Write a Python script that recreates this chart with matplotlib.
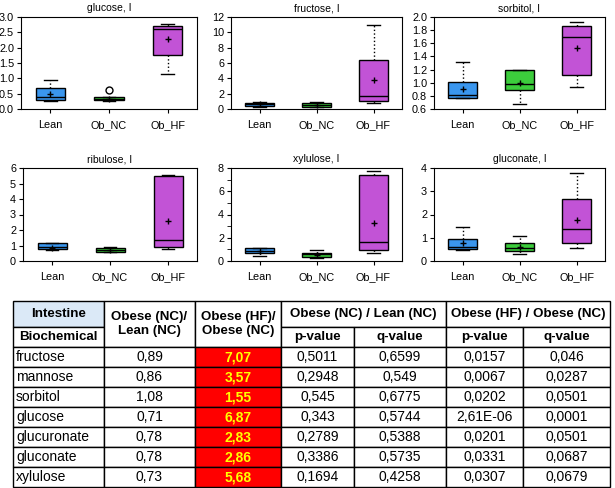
import matplotlib
matplotlib.use("Agg")
import matplotlib.pyplot as plt
from matplotlib.patches import Rectangle
from matplotlib.ticker import MultipleLocator, FormatStrFormatter

plt.rcParams['font.family'] = ['Liberation Sans', 'DejaVu Sans']

# ---------------- data ----------------
groups = ["Lean", "Ob_NC", "Ob_HF"]
metabolites = ["glucose", "fructose", "sorbitol", "ribulose", "xylulose", "gluconate"]
titles = ["glucose, I", "fructose, I", "sorbitol, I", "ribulose, I", "xylulose, I", "gluconate, I"]

# per metabolite: values for Lean, Ob_NC, Ob_HF
whislo = [[0.25, 0.27, 1.13], [0.30, 0.30, 0.79], [0.76, 0.67, 0.93],
          [0.68, 0.55, 0.77], [0.44, 0.29, 0.67], [0.48, 0.28, 0.56]]
q1 = [[0.28, 0.28, 1.76], [0.40, 0.30, 1.00], [0.77, 0.89, 1.12],
      [0.77, 0.56, 0.92], [0.67, 0.38, 0.91], [0.51, 0.41, 0.77]]
med = [[0.39, 0.34, 2.61], [0.60, 0.55, 1.75], [0.81, 0.986, 1.69],
       [0.92, 0.71, 1.35], [0.88, 0.56, 1.61], [0.62, 0.56, 1.38]]
q3 = [[0.68, 0.39, 2.70], [0.74, 0.80, 6.33], [1.016, 1.20, 1.86],
      [1.13, 0.86, 5.46], [1.08, 0.73, 7.42], [0.94, 0.77, 2.68]]
whishi = [[0.96, 0.39, 2.78], [0.90, 0.85, 10.9], [1.31, 1.20, 1.92],
          [1.17, 0.88, 5.52], [1.10, 0.97, 7.77], [1.47, 1.08, 3.80]]
means = [[0.49, 0.33, 2.28], [0.60, 0.55, 3.80], [0.91, 0.99, 1.53],
         [0.86, 0.70, 2.57], [0.85, 0.55, 3.28], [0.79, 0.62, 1.77]]
fliers = [[[], [0.61], []], [[], [], []], [[], [], []],
          [[], [], []], [[], [], []], [[], [], []]]

y_limits = [(0, 3.0), (0, 12), (0.6, 2.0), (0, 6), (0, 8), (0, 4)]
y_steps = [0.5, 2, 0.2, 1, 2, 1]
y_formats = ["%.1f", "%d", "%.1f", "%d", "%d", "%d"]

# table data
row_names = ["fructose", "mannose", "sorbitol", "glucose", "glucuronate", "gluconate", "xylulose"]
ratio_nc_lean = ["0,89", "0,86", "1,08", "0,71", "0,78", "0,78", "0,73"]
ratio_hf_nc = ["7,07", "3,57", "1,55", "6,87", "2,83", "2,86", "5,68"]
p_nc_lean = ["0,5011", "0,2948", "0,545", "0,343", "0,2789", "0,3386", "0,1694"]
q_nc_lean = ["0,6599", "0,549", "0,6775", "0,5744", "0,5388", "0,5735", "0,4258"]
p_hf_nc = ["0,0157", "0,0067", "0,0202", "2,61E-06", "0,0201", "0,0331", "0,0307"]
q_hf_nc = ["0,046", "0,0287", "0,0501", "0,0001", "0,0501", "0,0687", "0,0679"]

colors = ["#3a96ee", "#3ccc3c", "#c253d6"]

# ---------------- figure ----------------
W, H = 615, 488
fig = plt.figure(figsize=(W / 100, H / 100), dpi=100)

# axes pixel boxes (left, top, right, bottom)
boxes_px = [(21, 17, 197, 109), (231, 17, 402, 109), (434, 17, 605, 109),
            (23, 168, 197, 261), (231, 168, 402, 261), (434, 168, 605, 261)]

for i, name in enumerate(metabolites):
    l, t, r, b = boxes_px[i]
    ax = fig.add_axes([l / W, 1 - b / H, (r - l) / W, (b - t) / H])
    stats = []
    for g in range(3):
        stats.append(dict(whislo=whislo[i][g], q1=q1[i][g], med=med[i][g],
                          q3=q3[i][g], whishi=whishi[i][g], mean=means[i][g],
                          fliers=fliers[i][g], label=groups[g]))
    bp = ax.bxp(stats, positions=[1, 2, 3], widths=0.5, showmeans=True,
                patch_artist=True, capwidths=0.22,
                boxprops=dict(edgecolor="black", linewidth=1.0),
                medianprops=dict(color="black", linewidth=1.0),
                whiskerprops=dict(color="black", linestyle=":", linewidth=1.0),
                capprops=dict(color="black", linewidth=1.0),
                meanprops=dict(marker="+", markeredgecolor="black", markersize=5,
                               markeredgewidth=1.0),
                flierprops=dict(marker="o", markerfacecolor="white",
                                markeredgecolor="black", markersize=5))
    for patch, c in zip(bp["boxes"], colors):
        patch.set_facecolor(c)
    ax.set_xlim(0.5, 3.5)
    ax.set_ylim(*y_limits[i])
    ax.yaxis.set_major_locator(MultipleLocator(y_steps[i]))
    ax.yaxis.set_major_formatter(FormatStrFormatter(y_formats[i]))
    if name == "xylulose":
        ax.yaxis.set_minor_locator(MultipleLocator(1))
        ax.tick_params(axis="y", which="minor", length=3, direction="out")
    ax.set_xticks([1, 2, 3])
    ax.set_xticklabels(groups)
    ax.tick_params(axis="both", labelsize=7.8, length=3, direction="out",
                   top=False, right=False, pad=2)
    ax.tick_params(axis="x", pad=5)
    for s in ax.spines.values():
        s.set_linewidth(0.8)
    ax.set_title(titles[i], fontsize=7.5, pad=4)

# ---------------- table ----------------
tax = fig.add_axes([0, 0, 1, 1])
tax.set_xlim(0, W)
tax.set_ylim(H, 0)
tax.axis("off")

cx = [13, 104, 195, 281, 354, 446, 523, 610]
h0, h1, h2 = 301, 327, 347
row_h = 20.0
ry = [h2 + k * row_h for k in range(len(row_names) + 1)]

lw = 1.0
def box(x0, y0, x1, y1, fc="white"):
    tax.add_patch(Rectangle((x0, y0), x1 - x0, y1 - y0, facecolor=fc,
                            edgecolor="black", linewidth=lw))

def txt(x, y, s, ha="center", bold=False, color="black", size=10):
    tax.text(x, y, s, ha=ha, va="center", fontsize=size, color=color,
             fontweight="bold" if bold else "normal")

HS = 9.6
# header cells
box(cx[0], h0, cx[1], h1, fc="#dbe9f7")
txt((cx[0] + cx[1]) / 2, (h0 + h1) / 2, "Intestine", bold=True, size=HS)
box(cx[0], h1, cx[1], h2)
txt((cx[0] + cx[1]) / 2, (h1 + h2) / 2, "Biochemical", bold=True, size=HS)
box(cx[1], h0, cx[2], h2)
txt((cx[1] + cx[2]) / 2, (h0 + h2) / 2, "Obese (NC)/\nLean (NC)", bold=True, size=HS)
box(cx[2], h0, cx[3], h2)
txt((cx[2] + cx[3]) / 2, (h0 + h2) / 2, "Obese (HF)/\nObese (NC)", bold=True, size=HS)
box(cx[3], h0, cx[5], h1)
txt((cx[3] + cx[5]) / 2, (h0 + h1) / 2, "Obese (NC) / Lean (NC)", bold=True, size=HS)
box(cx[5], h0, cx[7], h1)
txt((cx[5] + cx[7]) / 2, (h0 + h1) / 2, "Obese (HF) / Obese (NC)", bold=True, size=HS)
for k, lab in zip(range(3, 7), ["p-value", "q-value", "p-value", "q-value"]):
    box(cx[k], h1, cx[k + 1], h2)
    txt((cx[k] + cx[k + 1]) / 2, (h1 + h2) / 2, lab, bold=True, size=HS)

# data cells
cols = [ratio_nc_lean, ratio_hf_nc, p_nc_lean, q_nc_lean, p_hf_nc, q_hf_nc]
for r, name in enumerate(row_names):
    y0, y1 = ry[r], ry[r + 1]
    ym = (y0 + y1) / 2
    box(cx[0], y0, cx[1], y1)
    txt(cx[0] + 3, ym, name, ha="left")
    for c, col in enumerate(cols):
        k = c + 1
        if c == 1:
            box(cx[k], y0, cx[k + 1], y1, fc="#ff0000")
            txt((cx[k] + cx[k + 1]) / 2, ym, col[r], bold=True, color="#ffff00")
        else:
            box(cx[k], y0, cx[k + 1], y1)
            txt((cx[k] + cx[k + 1]) / 2, ym, col[r])

fig.savefig("out.png", dpi=100)
